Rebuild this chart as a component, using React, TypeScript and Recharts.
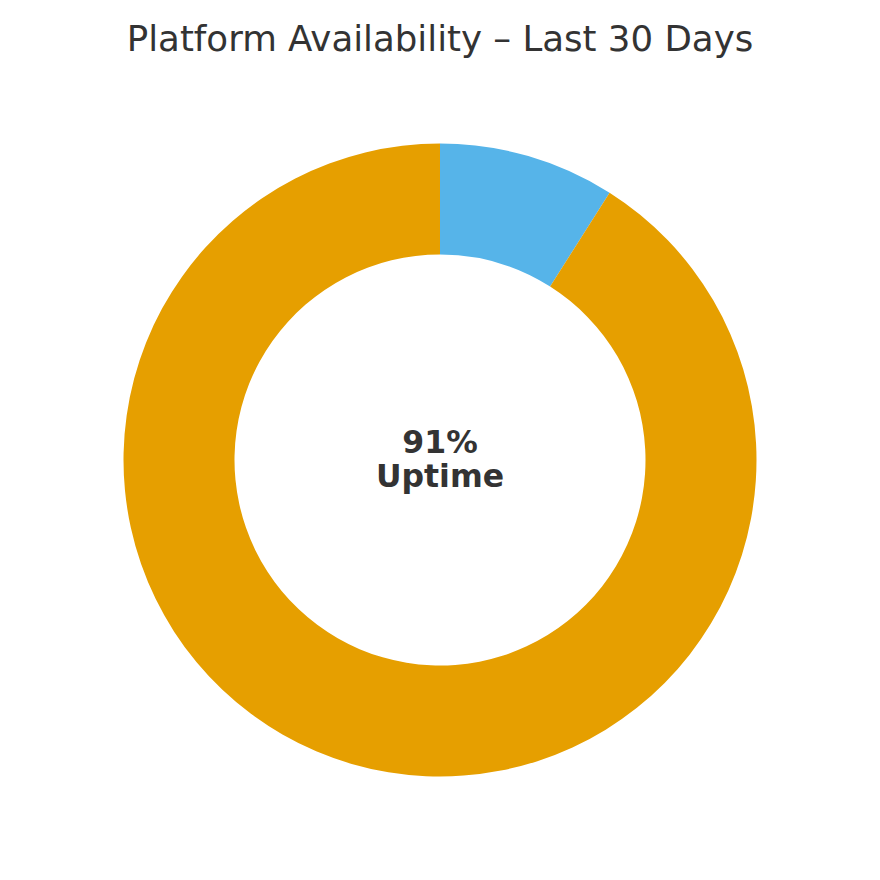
import { PieChart, Pie, Cell, Label } from "recharts";

const categories = ["Downtime", "Uptime"];
const shares = [9, 91];
const colors = ["#56B4E9", "#E69F00"];

const data = categories.map((name, i) => ({ name, value: shares[i] }));

const CenterText = (props: any) => {
    const vb = props.viewBox || {};
    const cx = vb.cx ?? 440;
    const cy = vb.cy ?? 460;
    return (
        <text
            x={cx}
            y={cy}
            textAnchor="middle"
            fill="#333333"
            fontFamily="DejaVu Sans"
            fontWeight="bold"
            fontSize={31.5}
        >
            <tspan x={cx} dy={-7}>91%</tspan>
            <tspan x={cx} dy={34}>Uptime</tspan>
        </text>
    );
};

export default function App() {
    return (
        <div
            style={{
                position: "absolute",
                left: 0,
                top: 0,
                width: 880,
                height: 880,
                background: "#ffffff",
            }}
        >
            <PieChart width={880} height={880} margin={{ top: 0, right: 0, bottom: 0, left: 0 }}>
                <Pie
                    data={data}
                    dataKey="value"
                    nameKey="name"
                    cx={440}
                    cy={460}
                    innerRadius={205.5}
                    outerRadius={316.5}
                    startAngle={90}
                    endAngle={-270}
                    stroke="none"
                    isAnimationActive={false}
                >
                    {data.map((d, i) => (
                        <Cell key={d.name} fill={colors[i]} />
                    ))}
                    <Label position="center" content={<CenterText />} />
                </Pie>
            </PieChart>
            <svg
                width={880}
                height={80}
                style={{ position: "absolute", left: 0, top: 0, pointerEvents: "none" }}
            >
                <text
                    x={440}
                    y={51}
                    textAnchor="middle"
                    fill="#333333"
                    fontFamily="DejaVu Sans"
                    fontSize={35.6}
                >
                    Platform Availability – Last 30 Days
                </text>
            </svg>
        </div>
    );
}
